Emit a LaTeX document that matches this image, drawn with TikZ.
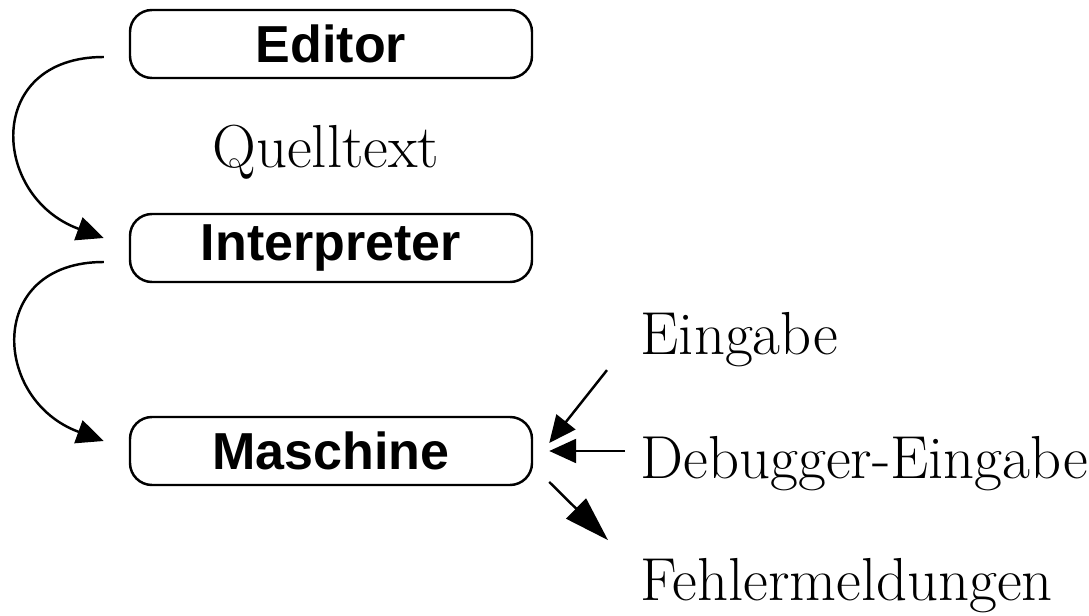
\documentclass[tikz,border=0pt]{standalone}
\usepackage{fontspec}
\newfontfamily\boxfont{Liberation Sans}
\usetikzlibrary{arrows.meta}
\tikzstyle{block} = [draw, line width=0.7pt, rounded corners=0.22cm, minimum width=4.02cm, minimum height=0.68cm, inner sep=0pt, font=\boxfont\bfseries\fontsize{14.8}{16}\selectfont]
\tikzstyle{txt} = [inner sep=0pt, font=\fontsize{17.28}{20}\selectfont]
\tikzstyle{arrow} = [line width=0.7pt, -{Triangle[length=0.27cm,width=0.24cm]}]
\tikzstyle{bigarrow} = [line width=0.7pt, -{Triangle[length=0.45cm,width=0.28cm]}]

\begin{document}
\begin{tikzpicture}
        \useasboundingbox (0, 0) rectangle (10.89, 6.15);

        % Boxes
        \node[block] (editor) at (3.31, 5.71) {Editor};
        \node[block] (interp) at (3.31, 3.67) {Interpreter};
        \node[block] (maschine) at (3.31, 1.64) {Maschine};

        % Texts
        \node[txt, anchor=base] (quelltext) at (3.26, 4.47) {Quelltext};
        \node[txt, anchor=base west] (eingabe) at (6.40, 2.60) {Eingabe};
        \node[txt, anchor=base west] (debug) at (6.40, 1.37) {Debugger-Eingabe};
        \node[txt, anchor=base west] (fehler) at (6.40, 0.15) {Fehlermeldungen};

        % Editor -> Interpreter -> Maschine
        \draw[arrow] ([xshift=-0.25cm,yshift=-0.13cm]editor.west) to[out=180,in=160,looseness=1.7] ([xshift=-0.25cm,yshift=0.10cm]interp.west);
        \draw[arrow] ([xshift=-0.25cm,yshift=-0.14cm]interp.west) to[out=180,in=160,looseness=1.7] ([xshift=-0.25cm,yshift=0.10cm]maschine.west);

        % In and out of Maschine
        \draw[arrow] ([xshift=-0.33cm,yshift=-0.30cm]eingabe.west) -- ([xshift=0.16cm,yshift=0.08cm]maschine.east);
        \draw[arrow] ([xshift=-0.15cm]debug.west |- maschine.east) -- ([xshift=0.16cm]maschine.east);
        \draw[bigarrow] ([xshift=0.16cm,yshift=-0.31cm]maschine.east) -- ([xshift=-0.32cm,yshift=0.45cm]fehler.west);

\end{tikzpicture}
\end{document}
